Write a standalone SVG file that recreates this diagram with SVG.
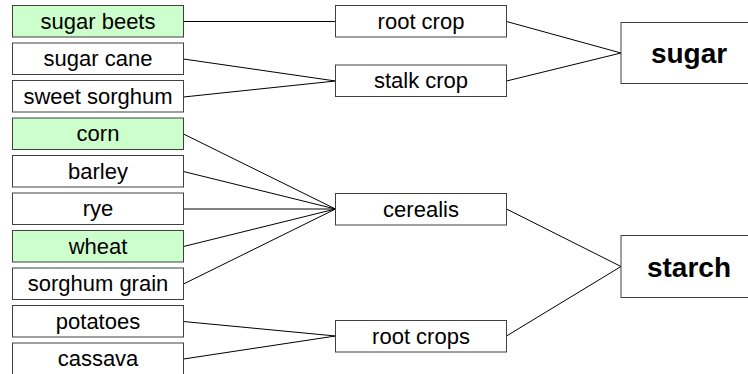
<svg xmlns="http://www.w3.org/2000/svg" width="748" height="374" viewBox="0 0 748 374">
<style>
.box{fill:#ffffff;stroke:#404040;stroke-width:1}
.green{fill:#ccffcc}
.t{font-family:"Liberation Sans",Arial,sans-serif;font-size:22px;fill:#000;text-anchor:middle}
.b{font-family:"Liberation Sans",Arial,sans-serif;font-size:28px;font-weight:bold;fill:#000;text-anchor:middle}
.c{stroke:#000;stroke-width:1;fill:none}
</style>
<rect width="748" height="374" fill="#ffffff"/>
<g id="connectors">
<line class="c" x1="183.5" y1="21.5" x2="335.5" y2="21.5" stroke="#555"/>
<line class="c" x1="183.5" y1="59" x2="335.5" y2="81"/>
<line class="c" x1="183.5" y1="97" x2="335.5" y2="81"/>
<line class="c" x1="183.5" y1="134" x2="335.5" y2="209"/>
<line class="c" x1="183.5" y1="171.5" x2="335.5" y2="209"/>
<line class="c" x1="183.5" y1="209" x2="335.5" y2="209"/>
<line class="c" x1="183.5" y1="246.5" x2="335.5" y2="209"/>
<line class="c" x1="183.5" y1="284" x2="335.5" y2="209"/>
<line class="c" x1="183.5" y1="321.5" x2="335.5" y2="336"/>
<line class="c" x1="183.5" y1="359" x2="335.5" y2="336"/>
<line class="c" x1="506.5" y1="21.5" x2="621" y2="53"/>
<line class="c" x1="506.5" y1="81" x2="621" y2="53"/>
<line class="c" x1="506.5" y1="209" x2="621" y2="266.5"/>
<line class="c" x1="506.5" y1="336" x2="621" y2="266.5"/>
</g>
<g id="sugar-beets"><rect class="box green" x="12.5" y="5.5" width="171" height="31.5"/><text class="t" x="98" y="28.5">sugar beets</text></g>
<g id="sugar-cane"><rect class="box" x="12.5" y="43" width="171" height="31.5"/><text class="t" x="98" y="66">sugar cane</text></g>
<g id="sweet-sorghum"><rect class="box" x="12.5" y="80.5" width="171" height="31.5"/><text class="t" x="98" y="103.5">sweet sorghum</text></g>
<g id="corn"><rect class="box green" x="12.5" y="118" width="171" height="31.5"/><text class="t" x="98" y="141">corn</text></g>
<g id="barley"><rect class="box" x="12.5" y="155.5" width="171" height="31.5"/><text class="t" x="98" y="178.5">barley</text></g>
<g id="rye"><rect class="box" x="12.5" y="193" width="171" height="31.5"/><text class="t" x="98" y="216">rye</text></g>
<g id="wheat"><rect class="box green" x="12.5" y="230.5" width="171" height="31.5"/><text class="t" x="98" y="253.5">wheat</text></g>
<g id="sorghum-grain"><rect class="box" x="12.5" y="268" width="171" height="31.5"/><text class="t" x="98" y="291">sorghum grain</text></g>
<g id="potatoes"><rect class="box" x="12.5" y="305.5" width="171" height="31.5"/><text class="t" x="98" y="328.5">potatoes</text></g>
<g id="cassava"><rect class="box" x="12.5" y="343" width="171" height="31.5"/><text class="t" x="98" y="366">cassava</text></g>
<g id="root-crop"><rect class="box" x="335.5" y="5.5" width="171" height="31.5"/><text class="t" x="421" y="28.5">root crop</text></g>
<g id="stalk-crop"><rect class="box" x="335.5" y="65" width="171" height="31.5"/><text class="t" x="421" y="88">stalk crop</text></g>
<g id="cerealis"><rect class="box" x="335.5" y="193.5" width="171" height="31.5"/><text class="t" x="421" y="216.5">cerealis</text></g>
<g id="root-crops"><rect class="box" x="335.5" y="320.5" width="171" height="31.5"/><text class="t" x="421" y="343.5">root crops</text></g>
<g id="sugar"><rect class="box" x="621" y="22.5" width="136" height="61"/><text class="b" x="689" y="63">sugar</text></g>
<g id="starch"><rect class="box" x="621" y="235.5" width="136" height="62"/><text class="b" x="689" y="276.5">starch</text></g>
</svg>
